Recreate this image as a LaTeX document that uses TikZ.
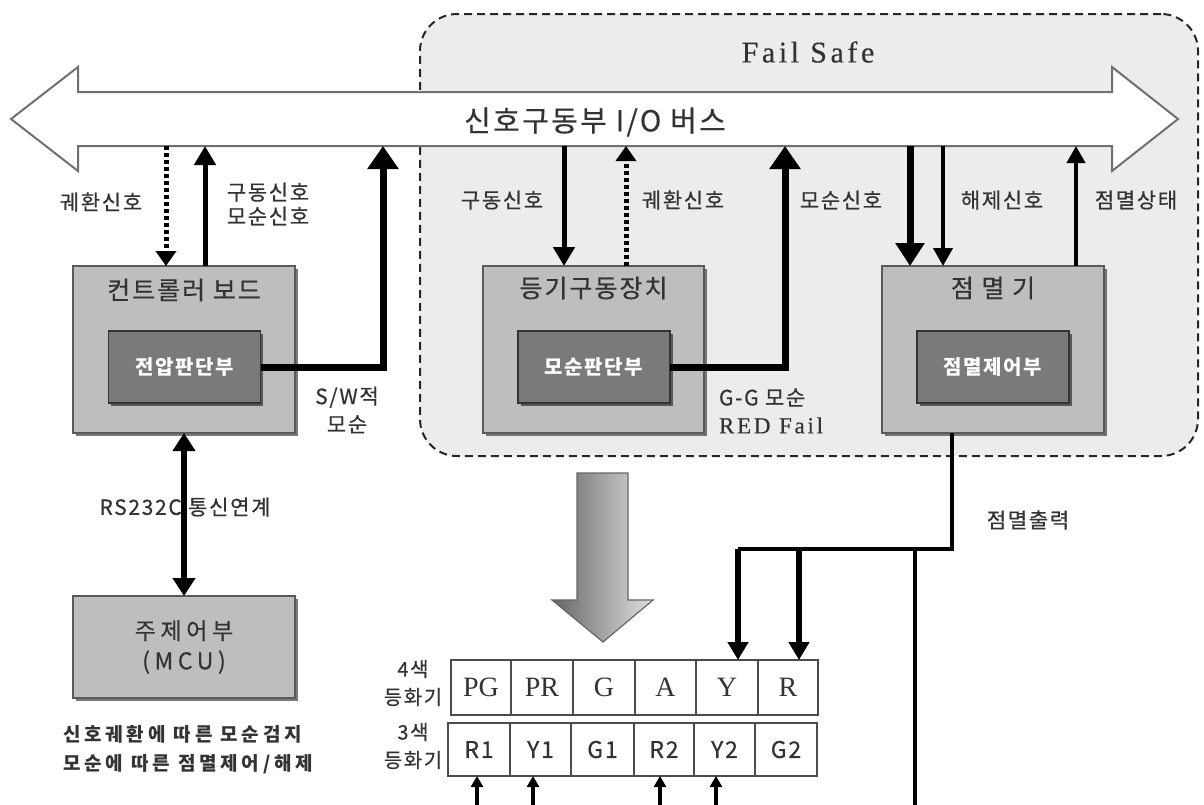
\documentclass[tikz,border=0pt]{standalone}
\usepackage{fontspec}
\usetikzlibrary{arrows.meta,shadows}
\newfontfamily\kr{Noto Sans CJK KR}[LetterSpace=8, UprightFeatures={FakeBold=0.5}]
\newfontfamily\krwide{Noto Sans CJK KR}[LetterSpace=20, UprightFeatures={FakeBold=0.5}]
\newfontfamily\rom{Liberation Serif}[LetterSpace=12, FakeBold=0.4]
\newfontfamily\romtight{Liberation Serif}
\definecolor{ink}{HTML}{333333}
\definecolor{zone}{HTML}{ECECEC}
\definecolor{boxfill}{HTML}{BEBEBE}
\definecolor{corefill}{HTML}{7A7A7A}
\definecolor{edge}{HTML}{5A5A5A}
\definecolor{busedge}{HTML}{707070}
\begin{document}
\begin{tikzpicture}[x=1pt,y=-1pt,
  every node/.style={inner sep=0pt, outer sep=0pt, text=ink},
  unit/.style={draw=edge, line width=1.6pt, fill=boxfill,
    drop shadow={shadow xshift=3pt, shadow yshift=-3pt, fill=black!65, opacity=0.8}},
  core/.style={draw=black!80, line width=1.6pt, fill=corefill, text=white,
    minimum width=152pt, minimum height=72pt,
    font=\kr\bfseries\fontsize{20}{22}\selectfont,
    drop shadow={shadow xshift=2.5pt, shadow yshift=-2.5pt, fill=black!75, opacity=0.8}},
  unittitle/.style={font=\kr\fontsize{25}{28}\selectfont},
  lbl/.style={font=\kr\fontsize{21}{24}\selectfont, align=center},
  cell/.style={draw=black!70, line width=1.5pt, fill=white},
  link/.style={line width=5pt, -{Triangle[width=21pt,length=19pt]}},
  heavylink/.style={line width=7pt, -{Triangle[width=30pt,length=23pt]}},
  thinlink/.style={line width=4pt, -{Triangle[width=19pt,length=18pt]}},
  fbk/.style={line width=5pt, dash pattern=on 4pt off 3pt, -{Triangle[width=20pt,length=15pt]}},
  feed/.style={line width=4.5pt},
  tap/.style={line width=6pt, -{Triangle[width=20pt,length=18pt]}},
  lamp/.style={line width=3.5pt, -{Triangle[width=12pt,length=11pt]}},
  serial/.style={line width=6pt, {Triangle[width=22pt,length=18pt]}-{Triangle[width=22pt,length=18pt]}}
]
% page
\fill[white] (0,0) rectangle (1204,804);
\useasboundingbox (0,0) rectangle (1204,804);

% fail-safe zone
\node[draw=black!85, line width=2pt, dash pattern=on 8pt off 5pt, fill=zone,
  rounded corners=37pt, minimum width=778pt, minimum height=442pt] (failsafe) at (809,235) {};
\node[font=\rom\fontsize{30}{34}\selectfont] (failsafename) at (808,52) {Fail Safe};

% I/O bus (double arrow)
\draw[draw=busedge, line width=2pt, fill=white, line join=miter]
  (78,92) -- (1112,92) -- (1112,67) -- (1178,119) -- (1112,171) -- (1112,146)
  -- (78,146) -- (78,171) -- (11,119) -- (78,67) -- cycle;
\node[minimum width=1034pt, minimum height=54pt] (bus) at (595,119) {};
\node[font=\kr\fontsize{29}{32}\selectfont] (busname) at (595,122) {신호구동부 I/O 버스};

% units
\node[unit, minimum width=222pt, minimum height=167pt] (ctrl) at (184,349.5) {};
\node[unittitle] (ctrlname) at (184,290) {컨트롤러 보드};
\node[core] (ctrlcore) at (184.5,367) {전압판단부};

\node[unit, minimum width=221pt, minimum height=167pt] (drv) at (593.5,349.5) {};
\node[unittitle] (drvname) at (593.5,288) {등기구동장치};
\node[core] (drvcore) at (594,367) {모순판단부};

\node[unit, minimum width=222pt, minimum height=167pt] (flash) at (993,349.5) {};
\node[unittitle] (flashname) at (993,288) {점 멸 기};
\node[core] (flashcore) at (993,367) {점멸제어부};

\node[unit, minimum width=222pt, minimum height=102pt, align=center,
  font=\krwide\fontsize{23}{30}\selectfont] (mcu) at (184,647) {주제어부\\(MCU)};

% bus links
\draw[fbk] (bus.south -| 166,0) -- (ctrl.north -| 166,0);
\draw[link] (ctrl.north -| 205,0) -- (bus.south -| 205,0);
\draw[heavylink] (ctrlcore.east) -| (bus.south -| 383,0);

\draw[link] (bus.south -| 564,0) -- (drv.north -| 564,0);
\draw[fbk] (drv.north -| 626,0) -- (bus.south -| 626,0);
\draw[heavylink] (drvcore.east) -| (bus.south -| 785,0);

\draw[line width=7pt, -{Triangle[width=28pt,length=23pt]}] (bus.south -| 910,0) -- (flash.north -| 910,0);
\draw[thinlink] (bus.south -| 943,0) -- (flash.north -| 943,0);
\draw[line width=4pt, -{Triangle[width=18pt,length=17pt]}] (flash.north -| 1076,0) -- (bus.south -| 1076,0);

\draw[serial] (ctrl.south) -- (mcu.north);

% link labels
\node[lbl] (l1) at (101,202) {궤환신호};
\node[lbl] (l2) at (268,204) {구동신호\\모순신호};
\node[lbl, font=\kr\fontsize{21}{28}\selectfont] (l3) at (347,410) {S/W적\\모순};
\node[lbl] (l4) at (502,200) {구동신호};
\node[lbl] (l5) at (683,200) {궤환신호};
\node[lbl] (l6) at (841,200) {모순신호};
\node[lbl, align=left, anchor=west, font=\kr\fontsize{21}{28}\selectfont] (l7) at (719,411) {G-G 모순\\{\rom\fontsize{23}{28}\selectfont RED Fail}};
\node[lbl] (l8) at (1002,200) {해제신호};
\node[lbl] (l9) at (1136,200) {점멸상태};
\node[lbl] (l10) at (1028,520) {점멸출력};
\node[lbl, font=\kr\fontsize{21}{24}\selectfont] (l11) at (185,507) {RS232C 통신연계};

\node[anchor=west, align=left, font=\krwide\bfseries\fontsize{19}{29}\selectfont] (note) at (63,750)
  {신호궤환에 따른 모순검지\\모순에 따른 점멸제어/해제};

% signal heads
\tikzset{four/.style={cell, minimum height=55pt, font=\romtight\fontsize{28}{30}\selectfont},
         three/.style={cell, minimum height=53pt, font=\kr\fontsize{23}{26}\selectfont}}
\node[four, minimum width=60pt] (PG) at (481,687.5) {PG};
\node[four, minimum width=62pt] (PR) at (542,687.5) {PR};
\node[four, minimum width=62pt] (G)  at (604,687.5) {G};
\node[four, minimum width=61pt] (A)  at (665.5,687.5) {A};
\node[four, minimum width=62pt] (Y)  at (727,687.5) {Y};
\node[four, minimum width=60pt] (R)  at (788,687.5) {R};

\node[three, minimum width=62pt] (R1) at (479,749.5) {R1};
\node[three, minimum width=61pt] (Y1) at (540.5,749.5) {Y1};
\node[three, minimum width=63pt] (G1) at (602.5,749.5) {G1};
\node[three, minimum width=60pt] (R2) at (664,749.5) {R2};
\node[three, minimum width=61pt] (Y2) at (724.5,749.5) {Y2};
\node[three, minimum width=62pt] (G2) at (786,749.5) {G2};

\node[align=center, font=\kr\fontsize{20}{28}\selectfont] (four-name) at (413,683) {4색\\등화기};
\node[align=center, font=\kr\fontsize{20}{28}\selectfont] (three-name) at (413,746) {3색\\등화기};

% hand-over to the signal heads
\draw[draw=black!60, line width=1.2pt, left color=black!60, right color=black!12]
  (577,473) -- (628,473) -- (628,600) -- (653,600) -- (603,642) -- (552,600) -- (577,600) -- cycle;

% flasher output
\coordinate (outY) at (738,549);
\coordinate (outR) at (799,549);
\coordinate (outDn) at (915,549);
\coordinate (outEnd) at (915,806);
\draw[feed] (flash.south -| 952,0) |- (outY);
\draw[tap] (outY) -- (Y.north -| outY);
\draw[tap] (outR) -- (R.north -| outR);
\draw[feed, line width=4pt] (outDn) -- (outEnd);

% lamp feeds
\coordinate (inR1) at (477,806);
\coordinate (inY1) at (533,806);
\coordinate (inR2) at (660,806);
\coordinate (inY2) at (716,806);
\draw[lamp] (inR1) -- (R1.south -| inR1);
\draw[lamp] (inY1) -- (Y1.south -| inY1);
\draw[lamp] (inR2) -- (R2.south -| inR2);
\draw[lamp] (inY2) -- (Y2.south -| inY2);
\end{tikzpicture}
\end{document}
